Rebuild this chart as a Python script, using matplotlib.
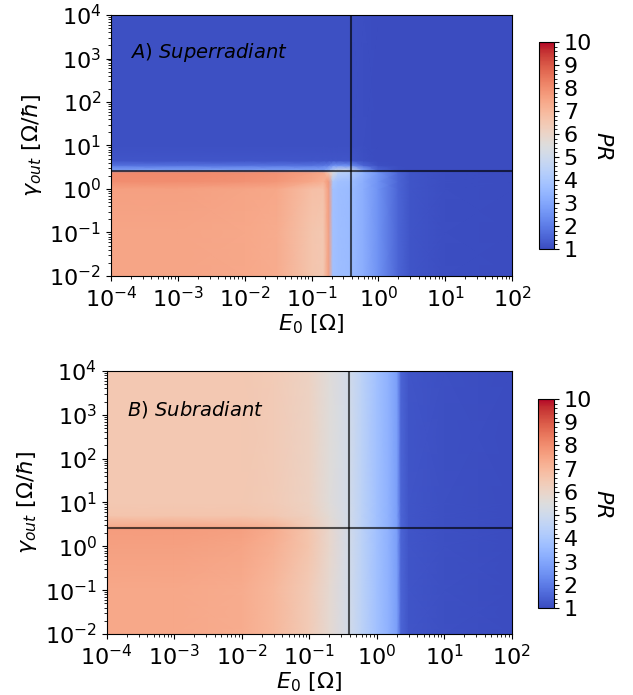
import matplotlib
matplotlib.use("Agg")
import matplotlib.pyplot as plt
import numpy as np
from matplotlib.ticker import LogLocator, NullFormatter

# --- data (PR on grid nodes) ---
e0_top = [1e-4, 1e-3, 1e-2, 3e-2, 0.1, 0.15, 0.18, 0.21, 0.25, 0.39, 0.6, 1.0, 2.0, 3.0, 10, 100]
gamma_top = [1e-2, 1e-1, 1.0, 1.5, 2.4, 2.7, 3.5, 4.5, 10, 1e4]
pr_top = [
    [7.5, 7.5, 7.4, 7.3, 6.6, 6.5, 7.6, 3.8, 3.7, 3.6, 3.2, 2.5, 1.5, 1.2, 1.05, 1.0],
    [7.5, 7.5, 7.4, 7.3, 6.6, 6.5, 7.6, 3.8, 3.7, 3.6, 3.2, 2.5, 1.5, 1.2, 1.05, 1.0],
    [7.6, 7.6, 7.5, 7.4, 6.8, 6.7, 7.7, 3.8, 3.7, 3.6, 3.2, 2.5, 1.5, 1.2, 1.05, 1.0],
    [8.0, 8.0, 7.9, 7.8, 7.4, 7.2, 7.8, 4.0, 3.8, 3.7, 3.2, 2.5, 1.5, 1.2, 1.05, 1.0],
    [8.1, 8.1, 8.0, 7.9, 7.6, 7.4, 6.5, 5.5, 4.5, 4.2, 3.4, 2.6, 1.5, 1.2, 1.05, 1.0],
    [3.0, 3.0, 3.0, 3.0, 3.0, 3.0, 3.5, 4.5, 5.0, 5.0, 3.0, 1.5, 1.1, 1.0, 1.0, 1.0],
    [1.8, 1.8, 1.8, 1.8, 1.8, 1.9, 2.0, 2.5, 2.5, 2.4, 1.5, 1.1, 1.0, 1.0, 1.0, 1.0],
    [1.2, 1.2, 1.2, 1.2, 1.2, 1.2, 1.2, 1.2, 1.2, 1.2, 1.1, 1.0, 1.0, 1.0, 1.0, 1.0],
    [1.1, 1.1, 1.1, 1.1, 1.1, 1.1, 1.1, 1.1, 1.1, 1.1, 1.05, 1.0, 1.0, 1.0, 1.0, 1.0],
    [1.1, 1.1, 1.1, 1.1, 1.1, 1.1, 1.1, 1.1, 1.1, 1.1, 1.05, 1.0, 1.0, 1.0, 1.0, 1.0],
]

e0_bot = [1e-4, 1e-3, 1e-2, 3e-2, 0.1, 0.2, 0.39, 0.6, 1.0, 1.5, 2.0, 2.3, 3.0, 10, 100]
gamma_bot = [1e-2, 1e-1, 1.0, 2.5, 2.7, 5.0, 10, 1e4]
pr_bot = [
    [7.4, 7.4, 7.3, 7.0, 6.4, 5.8, 5.1, 4.5, 3.8, 3.3, 2.8, 1.5, 1.2, 1.1, 1.0],
    [7.4, 7.4, 7.3, 7.0, 6.4, 5.8, 5.1, 4.5, 3.8, 3.3, 2.8, 1.5, 1.2, 1.1, 1.0],
    [7.6, 7.6, 7.5, 7.2, 6.6, 5.9, 5.1, 4.5, 3.8, 3.3, 2.8, 1.5, 1.2, 1.1, 1.0],
    [7.7, 7.7, 7.6, 7.3, 6.6, 5.9, 5.1, 4.5, 3.8, 3.3, 2.8, 1.5, 1.2, 1.1, 1.0],
    [7.4, 7.4, 7.3, 7.1, 6.4, 5.8, 5.1, 4.5, 3.8, 3.3, 2.8, 1.5, 1.2, 1.1, 1.0],
    [6.6, 6.6, 6.6, 6.5, 6.2, 5.7, 5.1, 4.5, 3.8, 3.3, 2.8, 1.5, 1.2, 1.1, 1.0],
    [6.5, 6.5, 6.5, 6.4, 6.1, 5.6, 5.1, 4.5, 3.8, 3.3, 2.8, 1.5, 1.2, 1.1, 1.0],
    [6.5, 6.5, 6.5, 6.4, 6.1, 5.6, 5.1, 4.5, 3.8, 3.3, 2.8, 1.5, 1.2, 1.1, 1.0],
]

e0_cut = 0.39
gamma_cut = 2.6
panel_labels = [r"$A)\ \mathit{Superradiant}$", r"$B)\ \mathit{Subradiant}$"]
cbar_ticks = list(range(1, 11))

fs = 16
fig = plt.figure(figsize=(6.33, 6.95), dpi=100)

panels = [
    (e0_top, gamma_top, pr_top, [0.1754, 0.6029, 0.6335, 0.3755], [0.8515, 0.6417, 0.0237, 0.2978], (0.047, 0.858)),
    (e0_bot, gamma_bot, pr_bot, [0.1685, 0.0878, 0.6398, 0.3784], [0.8495, 0.1252, 0.0253, 0.3007], (0.049, 0.855)),
]

for (ex, gy, pr, apos, cpos, tpos), lab in zip(panels, panel_labels):
    ax = fig.add_axes(apos)
    X, Y = np.meshgrid(ex, gy)
    mesh = ax.pcolormesh(X, Y, np.array(pr), cmap="coolwarm", vmin=1, vmax=10,
                         shading="gouraud", rasterized=True)
    ax.set_xscale("log")
    ax.set_yscale("log")
    ax.set_xlim(1e-4, 1e2)
    ax.set_ylim(1e-2, 1e4)
    ax.axvline(e0_cut, color="k", alpha=0.65, lw=1.5)
    ax.axhline(gamma_cut, color="k", alpha=0.65, lw=1.5)
    for axis in (ax.xaxis, ax.yaxis):
        axis.set_major_locator(LogLocator(base=10, numticks=20))
        axis.set_minor_locator(LogLocator(base=10, subs=np.arange(2, 10), numticks=100))
        axis.set_minor_formatter(NullFormatter())
    ax.tick_params(labelsize=fs)
    ax.set_xlabel(r"$E_0$ [$\Omega$]", fontsize=fs, labelpad=1)
    ax.set_ylabel(r"$\gamma_{out}$ [$\Omega/\hbar$]", fontsize=fs)
    ax.text(tpos[0], tpos[1], lab, transform=ax.transAxes, fontsize=14,
            ha="left", va="center")

    cax = fig.add_axes(cpos)
    cb = fig.colorbar(mesh, cax=cax, ticks=cbar_ticks)
    cb.ax.minorticks_on()
    cb.ax.tick_params(labelsize=fs)
    cb.set_label(r"$PR$", fontsize=fs, rotation=270, labelpad=15)

fig.savefig("out.png", dpi=100)
